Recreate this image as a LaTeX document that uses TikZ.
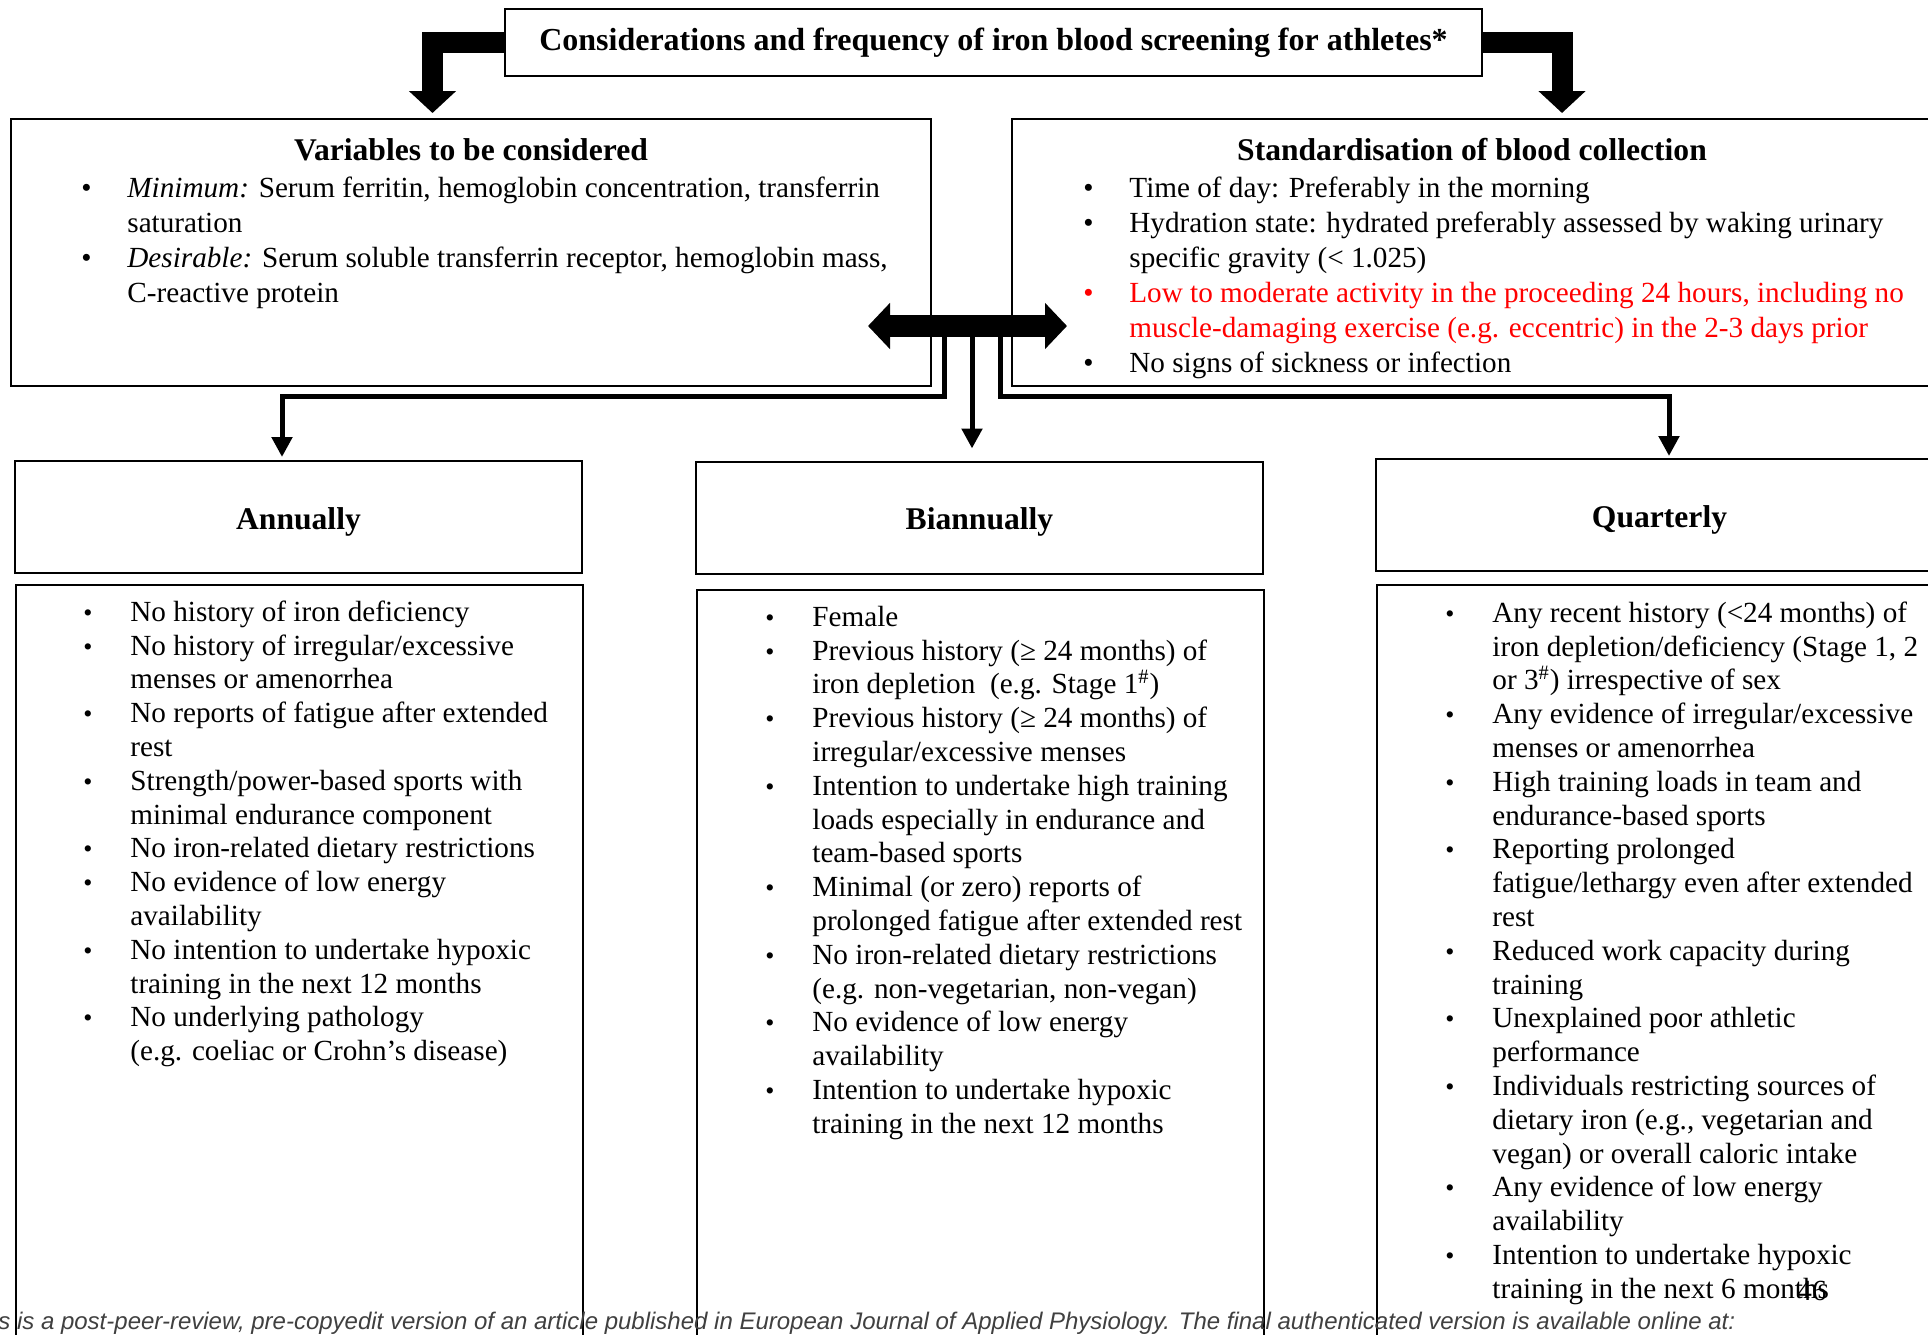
\documentclass[tikz,border=0pt]{standalone}
\usepackage{fontspec}
\setmainfont{Liberation Serif}
\newfontfamily\footfont{Liberation Sans}
\usepackage{xcolor}
\usetikzlibrary{positioning, arrows.meta}

\definecolor{alertred}{RGB}{255,0,0}
\definecolor{footgray}{RGB}{64,64,64}

% bullet lines with hanging indent
\newcommand{\bitem}[1]{\makebox[23pt][l]{\textbullet}#1}
\newcommand{\bcont}[1]{\hspace*{23pt}#1}
\newcommand{\sitem}[1]{\makebox[23.5pt][l]{\fontsize{13}{13}\selectfont\textbullet}#1}
\newcommand{\scont}[1]{\hspace*{23.5pt}#1}

\begin{document}
\begin{tikzpicture}[
    x=0.5pt, y=-0.5pt,
    box/.style={draw, line width=1pt, inner sep=0pt},
    bigbox/.style={box, minimum width=460pt, minimum height=133.5pt},
    headbox/.style={box, minimum width=283.5pt, minimum height=56pt,
      text height=14pt, text depth=2pt,
      font=\fontsize{15.8}{18}\selectfont\bfseries},
    listbox/.style={box, anchor=north west, minimum width=283.5pt,
      minimum height=400pt},
    heading/.style={inner sep=0pt, font=\fontsize{15.8}{18}\selectfont\bfseries},
    toptext/.style={anchor=north west, inner sep=0pt, align=left,
      font=\fontsize{14.6}{17.5}\selectfont},
    listtext/.style={anchor=north west, inner sep=0pt, align=left,
      font=\fontsize{14.6}{16.9}\selectfont},
    blockarr/.style={line width=10.5pt, line join=miter,
      -{Triangle[width=23pt,length=11pt]}},
    arr/.style={line width=2.5pt, line join=miter,
      -{Triangle[width=10pt,length=10pt]}}
  ]
  \useasboundingbox (0,0) rectangle (1928,1334);
  \clip (0,0) rectangle (1928,1334);

  % top row
  \node[box, line width=1.4pt, minimum width=488.5pt, minimum height=33.5pt,
    font=\fontsize{16}{18}\selectfont\bfseries] (title) at (993.5,42.5)
    {Considerations and frequency of iron blood screening for athletes*};
  \node[bigbox] (var) at (471,252.5) {};
  \node[bigbox] (std) at (1472,252.5) {};

  \node[heading] (vartitle) at (471,150) {Variables to be considered};
  \node[heading] (stdtitle) at (1472,150) {Standardisation of blood collection};

  \node[toptext] (varlist) at (81,172.5) {\strut\bitem{\textit{Minimum:} Serum ferritin, hemoglobin concentration, transferrin}\\
    \bcont{saturation}\\
    \bitem{\textit{Desirable:} Serum soluble transferrin receptor, hemoglobin mass,}\\
    \bcont{C-reactive protein}};

  \node[toptext] (stdlist) at (1083,172.5) {\strut\bitem{Time of day: Preferably in the morning}\\
    \bitem{Hydration state: hydrated preferably assessed by waking urinary}\\
    \bcont{specific gravity (< 1.025)}\\
    \textcolor{alertred}{\bitem{Low to moderate activity in the proceeding 24 hours, including no}}\\
    \textcolor{alertred}{\bcont{muscle-damaging exercise (e.g. eccentric) in the 2-3 days prior}}\\
    \bitem{No signs of sickness or infection}};

  % frequency columns
  \node[headbox] (ann) at (298.5,517) {Annually};
  \node[headbox] (bia) at (979.5,517.5) {Biannually};
  \node[headbox] (qua) at (1659.5,515) {Quarterly};

  \node[listbox] (annbox) at (15,584) {};
  \node[listbox] (biabox) at (696,589) {};
  \node[listbox] (quabox) at (1376,584) {};

  \node[listtext] (annlist) at (83,597.3) {\strut\sitem{No history of iron deficiency}\\
    \sitem{No history of irregular/excessive}\\
    \scont{menses or amenorrhea}\\
    \sitem{No reports of fatigue after extended}\\
    \scont{rest}\\
    \sitem{Strength/power-based sports with}\\
    \scont{minimal endurance component}\\
    \sitem{No iron-related dietary restrictions}\\
    \sitem{No evidence of low energy}\\
    \scont{availability}\\
    \sitem{No intention to undertake hypoxic}\\
    \scont{training in the next 12 months}\\
    \sitem{No underlying pathology}\\
    \scont{(e.g. coeliac or Crohn's disease)}};

  \node[listtext] (bialist) at (765,602.3) {\strut\sitem{Female}\\
    \sitem{Previous history (≥ 24 months) of}\\
    \scont{iron depletion \ (e.g. Stage 1\textsuperscript{\#})}\\
    \sitem{Previous history (≥ 24 months) of}\\
    \scont{irregular/excessive menses}\\
    \sitem{Intention to undertake high training}\\
    \scont{loads especially in endurance and}\\
    \scont{team-based sports}\\
    \sitem{Minimal (or zero) reports of}\\
    \scont{prolonged fatigue after extended rest}\\
    \sitem{No iron-related dietary restrictions}\\
    \scont{(e.g. non-vegetarian, non-vegan)}\\
    \sitem{No evidence of low energy}\\
    \scont{availability}\\
    \sitem{Intention to undertake hypoxic}\\
    \scont{training in the next 12 months}};

  \node[listtext] (qualist) at (1445,598.3) {\strut\sitem{Any recent history (<24 months) of}\\
    \scont{iron depletion/deficiency (Stage 1, 2}\\
    \scont{or 3\textsuperscript{\#}) irrespective of sex}\\
    \sitem{Any evidence of irregular/excessive}\\
    \scont{menses or amenorrhea}\\
    \sitem{High training loads in team and}\\
    \scont{endurance-based sports}\\
    \sitem{Reporting prolonged}\\
    \scont{fatigue/lethargy even after extended}\\
    \scont{rest}\\
    \sitem{Reduced work capacity during}\\
    \scont{training}\\
    \sitem{Unexplained poor athletic}\\
    \scont{performance}\\
    \sitem{Individuals restricting sources of}\\
    \scont{dietary iron (e.g., vegetarian and}\\
    \scont{vegan) or overall caloric intake}\\
    \sitem{Any evidence of low energy}\\
    \scont{availability}\\
    \sitem{Intention to undertake hypoxic}\\
    \scont{training in the next 6 months}};

  % block arrows from the title
  \draw[blockarr] (title.west) -| ([xshift=-19.25pt,yshift=2.5pt]var.north);
  \draw[blockarr] (title.east) -| ([xshift=45pt,yshift=2.5pt]std.north);

  % hub between the two upper boxes
  \coordinate (hubL) at (868,326);
  \coordinate (hubR) at (1067,326);
  \coordinate (brL) at (944.5,335);
  \coordinate (brC) at (972,335);
  \coordinate (brR) at (1000.5,335);
  \draw[line width=11pt, {Triangle[width=22.5pt,length=11pt]}-{Triangle[width=22.5pt,length=11pt]}]
    (hubL) -- (hubR);

  \draw[arr] (brL) -- ++(0,61.5) -| ([xshift=-8.25pt,yshift=1.5pt]ann.north);
  \draw[arr, shorten >=6pt] (brC) -- (brC |- bia.north);
  \draw[arr] (brR) -- ++(0,61.5) -| ([xshift=4.75pt,yshift=1pt]qua.north);

  % page footer
  \node[anchor=base west, inner sep=0pt, text=footgray,
    font=\footfont\itshape\fontsize{12}{13}\selectfont] (foot) at (-2,1329)
    {\llap{Thi}s is a post-peer-review, pre-copyedit version of an article published in European Journal of Applied Physiology. The final authenticated version is available online at:};
  \node[font=\fontsize{14.6}{16.9}\selectfont] (pgnum) at (1812,1291) {46};
\end{tikzpicture}
\end{document}
